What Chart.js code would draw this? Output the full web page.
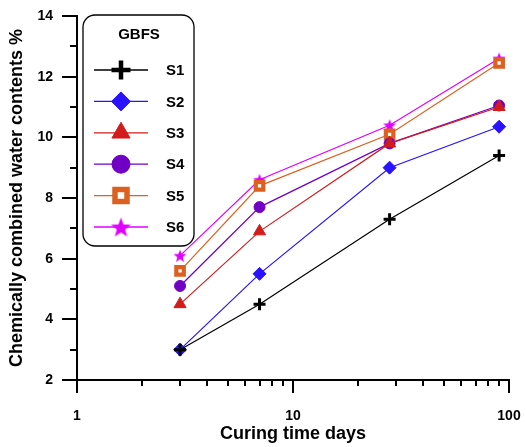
<!DOCTYPE html>
<html>
<head>
<meta charset="utf-8">
<script src="https://cdn.jsdelivr.net/npm/chart.js@4"></script>
<style>
  html, body { margin: 0; padding: 0; background: #fff; }
  #wrap { width: 526px; height: 447px; position: relative; }
</style>
</head>
<body>
<div id="wrap"><canvas id="chart"></canvas></div>
<script>
(function () {
  'use strict';

  // curing time (days)
  var days = [3, 7, 28, 90];
  var seriesNames = ['S1', 'S2', 'S3', 'S4', 'S5', 'S6'];
  var s1 = [3.0, 4.5, 7.3, 9.4];
  var s2 = [3.0, 5.5, 9.0, 10.35];
  var s3 = [4.5, 6.9, 9.8, 11.0];
  var s4 = [5.1, 7.7, 9.8, 11.05];
  var s5 = [5.6, 8.4, 10.1, 12.45];
  var s6 = [6.1, 8.6, 10.4, 12.6];

  var xMajorTicks = [1, 10, 100];
  var xMinorTicks = [2, 3, 4, 5, 6, 7, 8, 9, 20, 30, 40, 50, 60, 70, 80, 90];
  var yMajorTicks = [2, 4, 6, 8, 10, 12, 14];
  var yMinorTicks = [3, 5, 7, 9, 11, 13];

  var FONT = 'Liberation Sans, Arial, sans-serif';

  function makeStar(outer, color) {
    var size = Math.ceil(outer * 2 + 2);
    var c = document.createElement('canvas');
    c.width = size;
    c.height = size;
    var g = c.getContext('2d');
    var cx = size / 2, cy = size / 2 + outer * 0.1, inner = outer * 0.42;
    g.beginPath();
    for (var i = 0; i < 10; i++) {
      var r = i % 2 ? inner : outer;
      var a = -Math.PI / 2 + i * Math.PI / 5;
      g.lineTo(cx + r * Math.cos(a), cy + r * Math.sin(a));
    }
    g.closePath();
    g.fillStyle = color;
    g.fill();
    return c;
  }

  function pts(arr) {
    return arr.map(function (v, i) { return { x: days[i], y: v }; });
  }

  var styles = [
    { color: '#000000', fill: '#000000', point: 'cross', r: 6, bw: 3, lr: 9.5, lbw: 4.5 },
    { color: '#2a12ff', fill: '#2a12ff', point: 'rectRot', r: 6.5, bw: 1, lr: 9.5, lbw: 1 },
    { color: '#d21c1c', fill: '#d21c1c', point: 'triangle', r: 7, bw: 1, lr: 10.5, lbw: 1 },
    { color: '#7200c4', fill: '#7200c4', point: 'circle', r: 5.5, bw: 1, lr: 9, lbw: 1 },
    { color: '#de6020', fill: '#ffffff', point: 'rect', r: 5.3, bw: 4.2, lr: 8.5, lbw: 5.5 },
    { color: '#e000ff', fill: '#e000ff', point: 'star', r: 7, bw: 0, lr: 10.5, lbw: 0 }
  ];
  styles[5].img = makeStar(6.8, styles[5].color);
  styles[5].limg = makeStar(10.5, styles[5].color);

  var values = [s1, s2, s3, s4, s5, s6];
  var datasets = values.map(function (v, i) {
    var st = styles[i];
    return {
      label: seriesNames[i],
      data: pts(v),
      borderColor: st.color,
      borderWidth: 1.2,
      backgroundColor: st.fill,
      pointStyle: st.img || st.point,
      pointRadius: st.r,
      pointHoverRadius: st.r,
      pointBorderWidth: st.bw,
      pointBorderColor: st.color,
      pointBackgroundColor: st.fill,
      tension: 0
    };
  });

  function drawMarker(ctx, st, x, y) {
    ctx.save();
    ctx.fillStyle = st.fill;
    ctx.strokeStyle = st.color;
    ctx.lineWidth = st.lbw;
    Chart.helpers.drawPoint(ctx, {
      pointStyle: st.limg || st.point,
      radius: st.lr,
      rotation: 0,
      borderWidth: st.lbw
    }, x, y);
    ctx.restore();
  }

  var ticksPlugin = {
    id: 'customTicks',
    afterDraw: function (chart) {
      var ctx = chart.ctx, xs = chart.scales.x, ys = chart.scales.y;
      var a = chart.chartArea;
      ctx.save();
      ctx.strokeStyle = '#000';
      ctx.lineWidth = 2;
      ctx.beginPath();
      xMajorTicks.forEach(function (v) {
        var p = Math.round(xs.getPixelForValue(v));
        ctx.moveTo(p, a.bottom); ctx.lineTo(p, a.bottom + 13);
      });
      xMinorTicks.forEach(function (v) {
        var p = Math.round(xs.getPixelForValue(v));
        ctx.moveTo(p, a.bottom); ctx.lineTo(p, a.bottom + 6);
      });
      yMajorTicks.forEach(function (v) {
        var p = Math.round(ys.getPixelForValue(v));
        ctx.moveTo(a.left, p); ctx.lineTo(a.left - 15, p);
      });
      yMinorTicks.forEach(function (v) {
        var p = Math.round(ys.getPixelForValue(v));
        ctx.moveTo(a.left, p); ctx.lineTo(a.left - 7, p);
      });
      ctx.stroke();
      ctx.restore();
    }
  };

  var legendPlugin = {
    id: 'boxLegend',
    afterDraw: function (chart) {
      var ctx = chart.ctx;
      var bx = 83, by = 15, bw = 111, bh = 231, r = 12;
      ctx.save();
      ctx.fillStyle = '#fff';
      ctx.strokeStyle = '#000';
      ctx.lineWidth = 1.3;
      ctx.beginPath();
      ctx.moveTo(bx + r, by);
      ctx.arcTo(bx + bw, by, bx + bw, by + bh, r);
      ctx.arcTo(bx + bw, by + bh, bx, by + bh, r);
      ctx.arcTo(bx, by + bh, bx, by, r);
      ctx.arcTo(bx, by, bx + bw, by, r);
      ctx.closePath();
      ctx.fill();
      ctx.stroke();

      ctx.fillStyle = '#000';
      ctx.font = 'bold 15px ' + FONT;
      ctx.textAlign = 'center';
      ctx.textBaseline = 'middle';
      ctx.fillText('GBFS', 139, 35);

      chart.data.datasets.forEach(function (ds, i) {
        var y = 70 + i * 31.4;
        var st = styles[i];
        ctx.strokeStyle = st.color;
        ctx.lineWidth = 1.3;
        ctx.beginPath();
        ctx.moveTo(94, y); ctx.lineTo(148, y);
        ctx.stroke();
        drawMarker(ctx, st, 121, y);
        ctx.fillStyle = '#000';
        ctx.font = 'bold 15px ' + FONT;
        ctx.textAlign = 'left';
        ctx.textBaseline = 'middle';
        ctx.fillText(ds.label, 166, y + 1);
      });
      ctx.restore();
    }
  };

  var tickFont = { family: FONT, size: 14, weight: 'bold' };
  var titleFont = { family: FONT, size: 18, weight: 'bold' };

  new Chart(document.getElementById('chart'), {
    type: 'line',
    data: { datasets: datasets },
    options: {
      responsive: true,
      maintainAspectRatio: false,
      animation: false,
      events: [],
      layout: { padding: { top: 16, right: 17, left: 0, bottom: 0 } },
      plugins: { legend: { display: false }, tooltip: { enabled: false } },
      scales: {
        x: {
          type: 'logarithmic',
          min: 1,
          max: 100,
          afterBuildTicks: function (s) {
            s.ticks = xMajorTicks.map(function (v) { return { value: v }; });
          },
          afterFit: function (s) {
            s.height = 67;
            s.paddingLeft = 0;
            s.paddingRight = 0;
          },
          grid: { drawOnChartArea: false, drawTicks: true, tickLength: 13, tickColor: 'rgba(0,0,0,0)' },
          border: { display: true, color: '#000', width: 2 },
          ticks: {
            autoSkip: false,
            maxRotation: 0,
            padding: 15,
            color: '#000',
            font: tickFont,
            callback: function (v) { return String(v); }
          },
          title: {
            display: true,
            text: 'Curing time days',
            color: '#000',
            font: titleFont,
            padding: { top: 0, bottom: 2 }
          }
        },
        y: {
          min: 2,
          max: 14,
          afterBuildTicks: function (s) {
            s.ticks = yMajorTicks.map(function (v) { return { value: v }; });
          },
          afterFit: function (s) {
            s.width = 77;
            s.paddingTop = 0;
            s.paddingBottom = 0;
          },
          grid: { drawOnChartArea: false, drawTicks: true, tickLength: 15, tickColor: 'rgba(0,0,0,0)' },
          border: { display: true, color: '#000', width: 2 },
          ticks: {
            padding: 9,
            color: '#000',
            font: tickFont,
            callback: function (v) { return String(v); }
          },
          title: {
            display: true,
            text: 'Chemically combined water contents %',
            color: '#000',
            font: titleFont,
            padding: { top: 6, bottom: 0 }
          }
        }
      }
    },
    plugins: [ticksPlugin, legendPlugin]
  });
})();
</script>
</body>
</html>
